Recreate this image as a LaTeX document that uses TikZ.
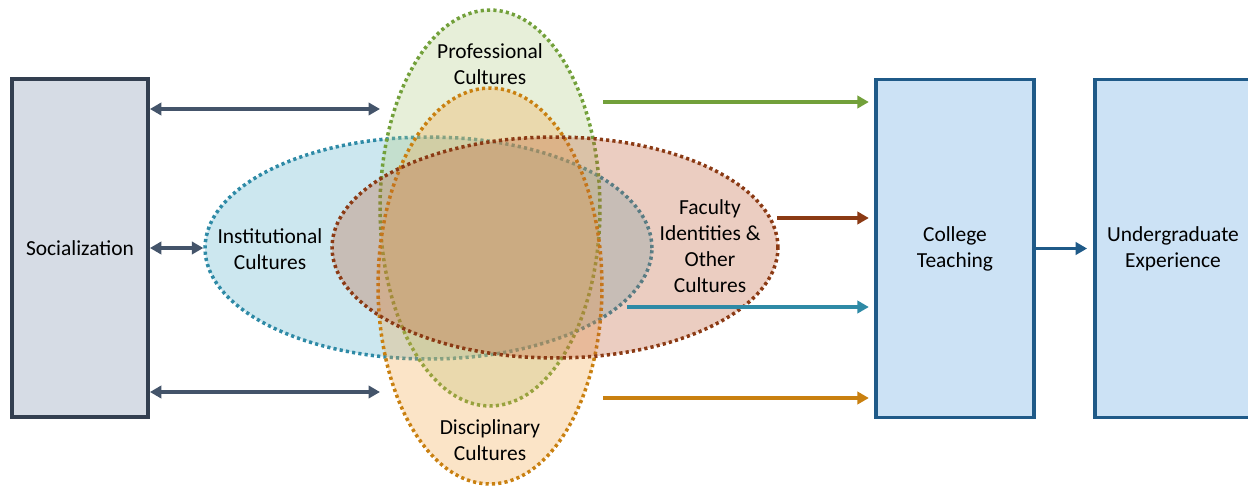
\documentclass[tikz,border=0pt]{standalone}
\usepackage{fontspec}
\setmainfont{Carlito}
\usetikzlibrary{shapes.geometric,arrows.meta}

% box colours
\definecolor{socfill}{HTML}{D6DCE5}
\definecolor{socline}{HTML}{333F50}
\definecolor{tchfill}{HTML}{CCE2F5}
\definecolor{tchline}{HTML}{1F5A88}
\definecolor{linkdark}{HTML}{44546A}
% culture colours (outline / fill base)
\definecolor{instline}{HTML}{2E8AA6}
\definecolor{instfill}{RGB}{88,178,205}
\definecolor{profline}{HTML}{72A03A}
\definecolor{proffill}{RGB}{178,205,132}
\definecolor{discline}{HTML}{C98010}
\definecolor{discfill}{RGB}{242,168,72}
\definecolor{facline}{HTML}{8B3A14}
\definecolor{facfill}{RGB}{190,92,52}

\tikzset{
  txt/.style={font=\fontsize{12.2pt}{14.7pt}\selectfont, align=center, inner sep=0pt},
  stagebox/.style={draw, line width=2.2pt, rectangle, minimum height=6.76cm, inner sep=0pt},
  culture/.style={ellipse, inner sep=0pt, line width=2pt,
                  dash pattern=on 1.8pt off 1.8pt, fill opacity=0.3, draw opacity=1},
  flow/.style={line width=2pt, -{Triangle[length=6.5pt,width=7pt]}},
  twoway/.style={line width=2pt, linkdark, {Triangle[length=6.5pt,width=7pt]}-{Triangle[length=6.5pt,width=7pt]}}
}

\begin{document}
\begin{tikzpicture}[x=0.02cm,y=-0.02cm]
\clip (0,0) rectangle (1248,487);
\fill[white] (0,0) rectangle (1248,487);

% stages
\node[stagebox, draw=socline, fill=socfill, minimum width=2.72cm] (soc) at (80,248) {};
\node[txt] (soct) at (soc.center) {Socialization};
\node[stagebox, draw=tchline, fill=tchfill, minimum width=3.16cm] (ct) at (955,248.5) {};
\node[txt] (ctt) at (ct.center) {College\\Teaching};
\node[stagebox, draw=tchline, fill=tchfill, minimum width=3.16cm] (ue) at (1174,248.5) {};
\node[txt] (uet) at (1173,248.5) {Undergraduate\\Experience};

% overlapping cultures
\node[culture, draw=instline, fill=instfill, minimum width=8.94cm, minimum height=4.44cm] (inst) at (428.5,248) {};
\node[culture, draw=profline, fill=proffill, minimum width=4.4cm, minimum height=7.92cm] (prof) at (490,208) {};
\node[culture, draw=discline, fill=discfill, minimum width=4.48cm, minimum height=7.92cm] (disc) at (490,286) {};
\node[culture, draw=facline, fill=facfill, minimum width=8.92cm, minimum height=4.42cm] (fac) at (555,247.5) {};

\node[txt] (instt) at (270,249) {Institutional\\Cultures};
\node[txt] (proft) at (490,64) {Professional\\Cultures};
\node[txt] (disct) at (490,440) {Disciplinary\\Cultures};
\node[txt] (fact) at (710,246) {Faculty\\Identities \&\\Other\\Cultures};

% socialization links
\coordinate (sa) at (380,109);
\coordinate (sb) at (380,392);
\draw[twoway] (soc.east |- sa) -- (sa);
\draw[twoway] (soc.east) -- (inst.west);
\draw[twoway] (soc.east |- sb) -- (sb);

% influences on teaching
\coordinate (g0) at (603,102);
\coordinate (f0) at (777,218);
\coordinate (i0) at (627,307);
\coordinate (d0) at (603,398);
\draw[flow, profline, shorten >=3pt] (g0) -- (g0 -| ct.west);
\draw[flow, facline, shorten >=3pt] (f0) -- (f0 -| ct.west);
\draw[flow, instline, shorten >=3pt] (i0) -- (i0 -| ct.west);
\draw[flow, discline, shorten >=3pt] (d0) -- (d0 -| ct.west);

% teaching to experience
\draw[flow, tchline, shorten >=3.4pt] (ct.east) -- (ue.west);
\end{tikzpicture}
\end{document}
